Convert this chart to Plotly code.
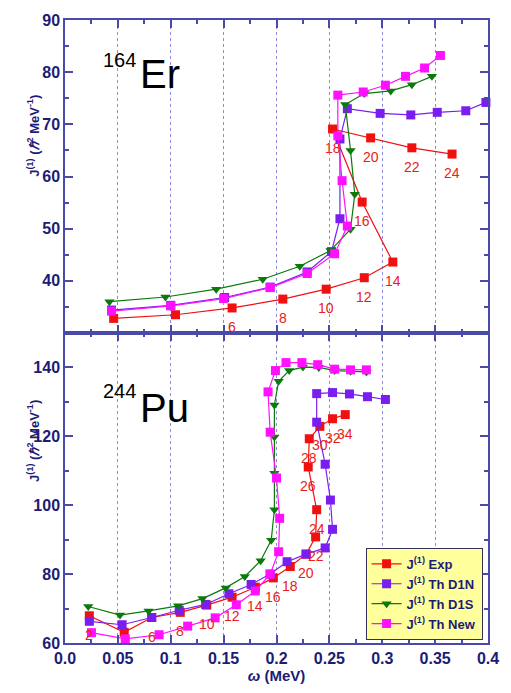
import plotly.graph_objects as go

# ---------------- data ----------------
# 164Er (top panel)
er_exp_spin = [2, 4, 6, 8, 10, 12, 14, 16, 18, 20, 22, 24]
er_exp_x = [0.046, 0.1045, 0.158, 0.206, 0.247, 0.283, 0.310, 0.281, 0.253, 0.289, 0.328, 0.366]
er_exp_y = [32.8, 33.5, 34.8, 36.5, 38.4, 40.6, 43.6, 55.1, 69.1, 67.4, 65.5, 64.3]
er_exp_labeled = [6, 8, 10, 12, 14, 16, 18, 20, 22, 24]

er_d1n_x = [0.044, 0.100, 0.151, 0.194, 0.229, 0.252, 0.260, 0.260, 0.267, 0.298, 0.327, 0.352, 0.379, 0.398]
er_d1n_y = [34.4, 35.3, 36.8, 38.8, 41.7, 45.6, 51.9, 67.2, 73.0, 72.1, 71.8, 72.3, 72.6, 74.2]

er_d1s_x = [0.042, 0.095, 0.143, 0.187, 0.222, 0.251, 0.270, 0.274, 0.270, 0.265, 0.283, 0.308, 0.328, 0.347]
er_d1s_y = [36.0, 36.9, 38.4, 40.3, 42.8, 45.8, 49.9, 56.6, 65.0, 73.8, 75.9, 76.4, 77.6, 79.2]

er_new_x = [0.044, 0.100, 0.150, 0.194, 0.229, 0.255, 0.267, 0.262, 0.258, 0.258, 0.282, 0.303, 0.322, 0.340, 0.355]
er_new_y = [34.2, 35.2, 36.6, 38.7, 41.4, 45.2, 50.5, 59.2, 67.8, 75.6, 76.2, 77.5, 79.2, 80.8, 83.2]

# 244Pu (bottom panel)
pu_exp_spin = [2, 4, 6, 8, 10, 12, 14, 16, 18, 20, 22, 24, 26, 28, 30, 32, 34]
pu_exp_x = [0.023, 0.056, 0.082, 0.109, 0.134, 0.158, 0.180, 0.197, 0.213, 0.228, 0.237, 0.238, 0.230, 0.231, 0.241, 0.253, 0.265]
pu_exp_y = [67.9, 63.1, 67.4, 68.9, 71.0, 73.3, 76.2, 78.9, 82.2, 85.8, 90.8, 98.7, 111.1, 119.3, 122.9, 125.1, 126.3]
pu_exp_labeled = [2, 6, 8, 10, 12, 14, 16, 18, 20, 22, 24, 26, 28, 30, 32, 34]

pu_d1n_x = [0.023, 0.054, 0.082, 0.108, 0.133, 0.155, 0.176, 0.194, 0.210, 0.228, 0.246, 0.253, 0.251, 0.246, 0.238, 0.238, 0.253, 0.269, 0.286, 0.303]
pu_d1n_y = [66.3, 65.3, 67.4, 69.5, 71.2, 74.3, 77.0, 80.0, 83.6, 85.8, 87.6, 93.0, 101.5, 111.9, 124.1, 132.4, 132.7, 132.3, 131.5, 130.7]

pu_d1s_x = [0.022, 0.052, 0.079, 0.107, 0.130, 0.152, 0.170, 0.185, 0.195, 0.198, 0.198, 0.198, 0.198, 0.202, 0.212, 0.225, 0.240, 0.255, 0.270, 0.285]
pu_d1s_y = [70.6, 68.1, 69.3, 70.8, 72.9, 76.0, 79.3, 83.9, 89.8, 98.7, 109.3, 119.8, 129.1, 136.0, 139.1, 140.1, 140.0, 139.1, 138.9, 138.7]

pu_new_x = [0.025, 0.057, 0.089, 0.116, 0.142, 0.162, 0.180, 0.194, 0.202, 0.203, 0.200, 0.194, 0.192, 0.199, 0.209, 0.224, 0.239, 0.255, 0.270, 0.285]
pu_new_y = [63.0, 61.2, 62.4, 64.9, 67.3, 71.1, 75.1, 80.0, 86.5, 96.2, 107.9, 121.2, 132.9, 139.1, 141.4, 141.4, 140.8, 139.5, 139.3, 139.3]

x_ticks = [0.0, 0.05, 0.1, 0.15, 0.2, 0.25, 0.3, 0.35, 0.4]
x_ticktext = ["0.0", "0.05", "0.1", "0.15", "0.2", "0.25", "0.3", "0.35", "0.4"]
top_yticks = [40, 50, 60, 70, 80, 90]
bot_yticks = [60, 80, 100, 120, 140]

series_names = ["J<sup>(1)</sup> Exp", "J<sup>(1)</sup> Th D1N", "J<sup>(1)</sup> Th D1S", "J<sup>(1)</sup> Th New"]
series_colors = ["#f01010", "#7a1ef0", "#0b7a0b", "#ff10ff"]
series_symbols = ["square", "square", "triangle-down", "square"]

NAVY = "#1c1c74"
FRAME = "#4a4aa8"
FONT = "Liberation Sans, Arial, sans-serif"

fig = go.Figure()

panels = [
    ("x2", "y2", [(er_exp_x, er_exp_y), (er_d1n_x, er_d1n_y), (er_d1s_x, er_d1s_y), (er_new_x, er_new_y)], False),
    ("x", "y", [(pu_exp_x, pu_exp_y), (pu_d1n_x, pu_d1n_y), (pu_d1s_x, pu_d1s_y), (pu_new_x, pu_new_y)], True),
]
for xa, ya, data, showleg in panels:
    for i, (xs, ys) in enumerate(data):
        fig.add_trace(go.Scatter(
            x=xs, y=ys, xaxis=xa, yaxis=ya, mode="lines+markers",
            name=series_names[i], showlegend=showleg, cliponaxis=False,
            line=dict(color=series_colors[i], width=1.2),
            marker=dict(symbol=series_symbols[i], size=9, color=series_colors[i],
                        line=dict(width=0)),
        ))

# spin labels
annotations = []
for spins, xs, ys, labeled, xref, yref in [
    (er_exp_spin, er_exp_x, er_exp_y, er_exp_labeled, "x2", "y2"),
    (pu_exp_spin, pu_exp_x, pu_exp_y, pu_exp_labeled, "x", "y"),
]:
    for s, xv, yv in zip(spins, xs, ys):
        if s in labeled:
            annotations.append(dict(x=xv, y=yv, xref=xref, yref=yref, text=str(s),
                                    showarrow=False, yshift=-19,
                                    font=dict(family=FONT, size=14, color="#e82020")))

# nucleus labels
for sup, sym, ycap, ysup in [("164", "Er", 0.9126, 0.936), ("244", "Pu", 0.3776, 0.404)]:
    annotations.append(dict(x=(101 - 65) / 425, y=ysup, xref="paper", yref="paper", text=sup,
                            showarrow=False, xanchor="left", yanchor="middle",
                            font=dict(family=FONT, size=20, color="black")))
    annotations.append(dict(x=(138 - 65) / 425, y=ycap, xref="paper", yref="paper", text=sym,
                            showarrow=False, xanchor="left", yanchor="middle",
                            font=dict(family=FONT, size=40, color="black")))

# y titles (one per panel), placed relative to each panel's domain
ytitle = "<b>J<sup>(1)</sup> (<i>ℏ</i><sup>2</sup> MeV<sup>-1</sup>)</b>"
for xr, yr, yc in [("x2 domain", "y2 domain", 0.63), ("x domain", "y domain", 0.652)]:
    annotations.append(dict(x=0, xshift=-32, y=yc, xref=xr, yref=yr, text=ytitle,
                            showarrow=False, textangle=-90, xanchor="center", yanchor="middle",
                            font=dict(family=FONT, size=13, color=NAVY)))

common_x = dict(range=[0, 0.4], tickvals=x_ticks, ticktext=x_ticktext,
                showgrid=True, gridcolor="#8c8cd8", griddash="dot", gridwidth=1,
                zeroline=False, showline=True, linecolor=FRAME, linewidth=1.5, mirror="allticks",
                ticks="inside", ticklen=8, tickcolor=FRAME, tickwidth=1.5,
                minor=dict(dtick=0.025, ticks="inside", ticklen=4, tickcolor=FRAME, showgrid=False),
                tickfont=dict(family=FONT, size=16, color=NAVY, weight="bold"))

common_y = dict(showgrid=False, zeroline=False, showline=True, linecolor=FRAME, linewidth=1.5,
                mirror="allticks", ticks="inside", ticklen=8, tickcolor=FRAME, tickwidth=1.5,
                tickfont=dict(family=FONT, size=16, color=NAVY, weight="bold"))

fig.update_layout(
    width=511, height=693,
    margin=dict(l=65, r=21, t=15, b=49),
    paper_bgcolor="white", plot_bgcolor="white",
    xaxis=dict(**common_x, anchor="y",
               title=dict(text="<b><i>ω</i> (MeV)</b>", standoff=4,
                          font=dict(family=FONT, size=15, color=NAVY))),
    xaxis2=dict(**common_x, anchor="y2", matches="x", showticklabels=False),
    yaxis=dict(**common_y, domain=[0, 0.4976], range=[60, 150], tickvals=bot_yticks, anchor="x",
               minor=dict(dtick=10, ticks="inside", ticklen=4, tickcolor=FRAME)),
    yaxis2=dict(**common_y, domain=[0.4976, 1], range=[30, 90], tickvals=top_yticks,
                anchor="x2", minor=dict(dtick=5, ticks="inside", ticklen=4, tickcolor=FRAME)),
    legend=dict(x=(367 - 65) / 425, y=(644 - 548) / 629, xanchor="left", yanchor="top",
                bgcolor="#ffff9c", bordercolor="#33335a", borderwidth=1,
                font=dict(family=FONT, size=13, color=NAVY, weight="bold"),
                tracegroupgap=0),
    annotations=annotations,
    showlegend=True,
)

fig.write_html("out.html")
